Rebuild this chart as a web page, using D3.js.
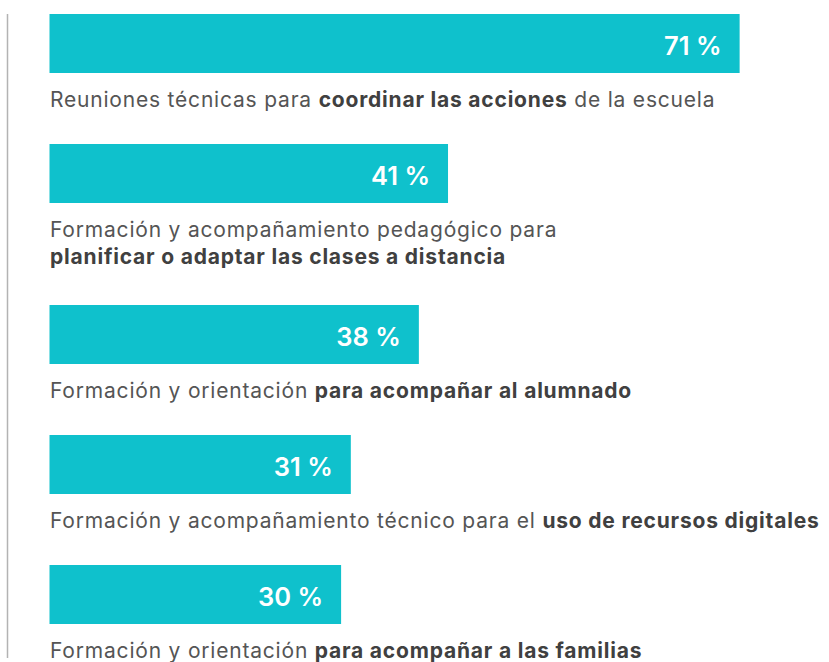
<!DOCTYPE html>
<html>
<head>
<meta charset="utf-8">
<script src="https://cdn.jsdelivr.net/npm/d3@7"></script>
<style>
  body { margin: 0; background: #fff; }
  svg { display: block; }
</style>
</head>
<body>
<svg></svg>
<script>
// values (%)
const values = [71, 41, 38, 31, 30];

// labels: each line is a list of [text, bold]
const labels = [
  [[["Reuniones técnicas para ", false], ["coordinar las acciones", true], [" de la escuela", false]]],
  [[["Formación y acompañamiento pedagógico para", false]],
   [["planificar o adaptar las clases a distancia", true]]],
  [[["Formación y orientación ", false], ["para acompañar al alumnado", true]]],
  [[["Formación y acompañamiento técnico para el ", false], ["uso de recursos digitales", true]]],
  [[["Formación y orientación ", false], ["para acompañar a las familias", true]]]
];

const width = 829, height = 662;
const barH = 59;
const rowStep = 130;     // bar top to next bar top for one label line
const extraLine = 31;    // extra room for each further label line
const lineH = 27;        // spacing of label lines

const svg = d3.select("svg")
    .attr("width", width)
    .attr("height", height);

const x = d3.scaleLinear()
    .domain([0, 100])
    .range([49.5, 1021.5]);

// top of each bar, pushed down by extra label lines
let tops = [];
let acc = 14;
labels.forEach(function(l, i) {
  tops.push(acc);
  acc += rowStep + (l.length - 1) * extraLine;
});

// grey rule on the left
svg.append("line")
    .attr("x1", 7.5).attr("x2", 7.5)
    .attr("y1", 14).attr("y2", 658)
    .attr("stroke", "#b3b3b3")
    .attr("stroke-width", 1.5);

const rows = svg.selectAll("g.row")
    .data(values)
    .join("g")
    .attr("class", "row")
    .attr("transform", (d, i) => `translate(0, ${tops[i]})`);

rows.append("rect")
    .attr("x", x(0))
    .attr("y", 0)
    .attr("width", d => x(d) - x(0))
    .attr("height", barH)
    .attr("fill", "#0fc1cc");

rows.append("text")
    .attr("x", d => x(d) - 18)
    .attr("y", 41)
    .attr("text-anchor", "end")
    .attr("fill", "#fff")
    .attr("font-family", "Inter, sans-serif")
    .attr("font-size", 25.5)
    .attr("font-weight", 600)
    .text(d => d + " %");

rows.each(function(d, i) {
  const g = d3.select(this);
  labels[i].forEach(function(line, j) {
    const t = g.append("text")
        .attr("x", 50)
        .attr("y", barH + 33.5 + j * lineH)
        .attr("fill", "#555")
        .attr("font-family", "Inter, sans-serif")
        .attr("font-size", 21)
        .attr("letter-spacing", 0.8);
    t.selectAll("tspan")
        .data(line)
        .join("tspan")
        .attr("font-weight", s => s[1] ? 700 : 400)
        .attr("fill", s => s[1] ? "#404040" : "#555")
        .text(s => s[0]);
  });
});
</script>
</body>
</html>
